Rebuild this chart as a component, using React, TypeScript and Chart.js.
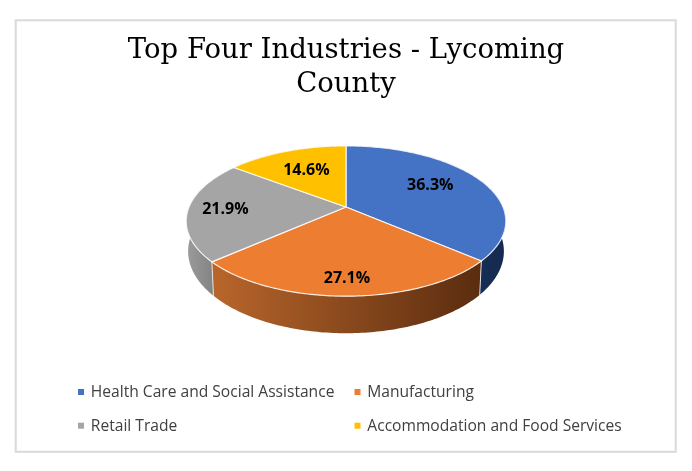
import React, { useEffect, useRef } from "react";
import { Chart, registerables } from "chart.js";

Chart.register(...registerables);

const titleLines = ["Top Four Industries - Lycoming", "County"];
const categories = ["Health Care and Social Assistance", "Manufacturing", "Retail Trade", "Accommodation and Food Services"];
const shares = [36.3, 27.1, 21.9, 14.6];
const topColors = ["#4472C4", "#ED7D31", "#A5A5A5", "#FFC000"];
const wallLeftColors = ["#1f3a6b", "#b9662b", "#9c9c9c", "#997300"];
const wallRightColors = ["#152a50", "#5a2c0f", "#6f6f6f", "#997300"];
const labelRadius = [0.66, 0.826, 0.765, 0.63];
const labelAngleShift = [-5.7, 0, 0, 0];

// perspective of the tilted disc
const K = 0.1867;
const SQUASH = 0.462;
const FRONT_SCALE_X = 0.988;
const FRONT_SCALE_Y = 1.09;
const DEPTH = 29;

type P = { x: number; y: number };

function project(el: any, angle: number, r = 1): P {
  const u = Math.cos(angle) * r;
  const v = Math.sin(angle) * r;
  const d = 1 - K * v;
  return {
    x: el.x + (el.outerRadius * u) / d,
    y: el.y + (el.outerRadius * SQUASH * v) / d,
  };
}

function lower(el: any, angle: number): P {
  const p = project(el, angle);
  return {
    x: el.x + (p.x - el.x) * FRONT_SCALE_X,
    y: el.y + (p.y - el.y) * FRONT_SCALE_Y + DEPTH,
  };
}

function samples(a: number, b: number): number[] {
  const n = Math.max(8, Math.ceil((b - a) * 60));
  const out: number[] = [];
  for (let i = 0; i <= n; i++) out.push(a + ((b - a) * i) / n);
  return out;
}

const framePlugin = {
  id: "frame",
  beforeDraw(chart: any) {
    const { ctx, width, height } = chart;
    ctx.save();
    ctx.fillStyle = "#ffffff";
    ctx.fillRect(0, 0, width, height);
    ctx.strokeStyle = "#d9d9d9";
    ctx.lineWidth = 2;
    ctx.strokeRect(15.7, 20.3, 660, 431.5);
    ctx.restore();
  },
};

const discPlugin = {
  id: "disc",
  beforeDatasetDraw(chart: any, args: any) {
    const { ctx } = chart;
    const arcs = args.meta.data;
    ctx.save();
    ctx.lineJoin = "round";
    // walls, farthest first
    [3, 0, 2, 1].forEach((i) => {
      const el = arcs[i];
      const angles = samples(el.startAngle, el.endAngle);
      const xs = angles.map((a) => project(el, a).x);
      const grad = ctx.createLinearGradient(Math.min(...xs), 0, Math.max(...xs), 0);
      grad.addColorStop(0, wallLeftColors[i]);
      grad.addColorStop(1, wallRightColors[i]);
      ctx.beginPath();
      angles.forEach((a, n) => {
        const p = project(el, a);
        n ? ctx.lineTo(p.x, p.y) : ctx.moveTo(p.x, p.y);
      });
      angles.slice().reverse().forEach((a) => {
        const p = lower(el, a);
        ctx.lineTo(p.x, p.y);
      });
      ctx.closePath();
      ctx.fillStyle = grad;
      ctx.fill();
    });
    // light edges where the walls meet
    ctx.strokeStyle = "rgba(235,235,235,0.9)";
    ctx.lineWidth = 1;
    [arcs[0], arcs[1]].forEach((el: any) => {
      const a = project(el, el.endAngle);
      const b = lower(el, el.endAngle);
      ctx.beginPath();
      ctx.moveTo(a.x, a.y);
      ctx.lineTo(b.x, b.y);
      ctx.stroke();
    });
    // top surface
    arcs.forEach((el: any, i: number) => {
      ctx.beginPath();
      ctx.moveTo(el.x, el.y);
      samples(el.startAngle, el.endAngle).forEach((a) => {
        const p = project(el, a);
        ctx.lineTo(p.x, p.y);
      });
      ctx.closePath();
      ctx.fillStyle = topColors[i];
      ctx.fill();
      ctx.strokeStyle = "rgba(255,255,255,0.85)";
      ctx.lineWidth = 1.2;
      ctx.stroke();
    });
    ctx.restore();
    return false;
  },
};

const valueLabelPlugin = {
  id: "valueLabels",
  afterDatasetsDraw(chart: any) {
    const { ctx } = chart;
    const arcs = chart.getDatasetMeta(0).data;
    const values = chart.data.datasets[0].data;
    ctx.save();
    ctx.font = "bold 16px 'Open Sans'";
    ctx.fillStyle = "#000000";
    ctx.textAlign = "center";
    ctx.textBaseline = "middle";
    arcs.forEach((el: any, i: number) => {
      const mid = (el.startAngle + el.endAngle) / 2 + (labelAngleShift[i] * Math.PI) / 180;
      const p = project(el, mid, labelRadius[i]);
      ctx.fillText(values[i].toFixed(1) + "%", p.x, p.y + 0.7);
    });
    ctx.restore();
  },
};

const legendPlugin = {
  id: "gridLegend",
  afterDraw(chart: any) {
    const { ctx } = chart;
    const colX = [78, 354.5];
    const rowY = [392, 425.7];
    ctx.save();
    ctx.font = "15.6px 'Open Sans'";
    ctx.textBaseline = "middle";
    ctx.textAlign = "left";
    chart.data.labels.forEach((label: string, i: number) => {
      const x = colX[i % 2];
      const y = rowY[Math.floor(i / 2)];
      ctx.fillStyle = chart.data.datasets[0].backgroundColor[i];
      ctx.fillRect(x, y - 3, 6, 6);
      ctx.fillStyle = "#404040";
      ctx.fillText(label, x + 12.8, y + 0.7);
    });
    ctx.restore();
  },
};

export default function App() {
  const ref = useRef<HTMLCanvasElement>(null);
  useEffect(() => {
    const chart = new Chart(ref.current!, {
      type: "pie",
      data: {
        labels: categories,
        datasets: [{ data: shares, backgroundColor: topColors, borderWidth: 0 }],
      },
      options: {
        animation: false,
        responsive: false,
        devicePixelRatio: 1,
        layout: { padding: { left: 0, right: 0, top: 0, bottom: 107 } },
        plugins: {
          legend: { display: false },
          tooltip: { enabled: false },
          title: {
            display: true,
            text: titleLines,
            color: "#000000",
            font: { family: "'DejaVu Serif'", size: 27.5, weight: "normal", lineHeight: 1.24 },
            padding: { top: 34, bottom: -52.2 },
          },
        },
      },
      plugins: [framePlugin, discPlugin, valueLabelPlugin, legendPlugin],
    } as any);
    return () => chart.destroy();
  }, []);
  return (
    <div style={{ position: "absolute", left: 0, top: 0, width: 692, height: 471 }}>
      <canvas ref={ref} width={692} height={471} style={{ display: "block" }} />
    </div>
  );
}
